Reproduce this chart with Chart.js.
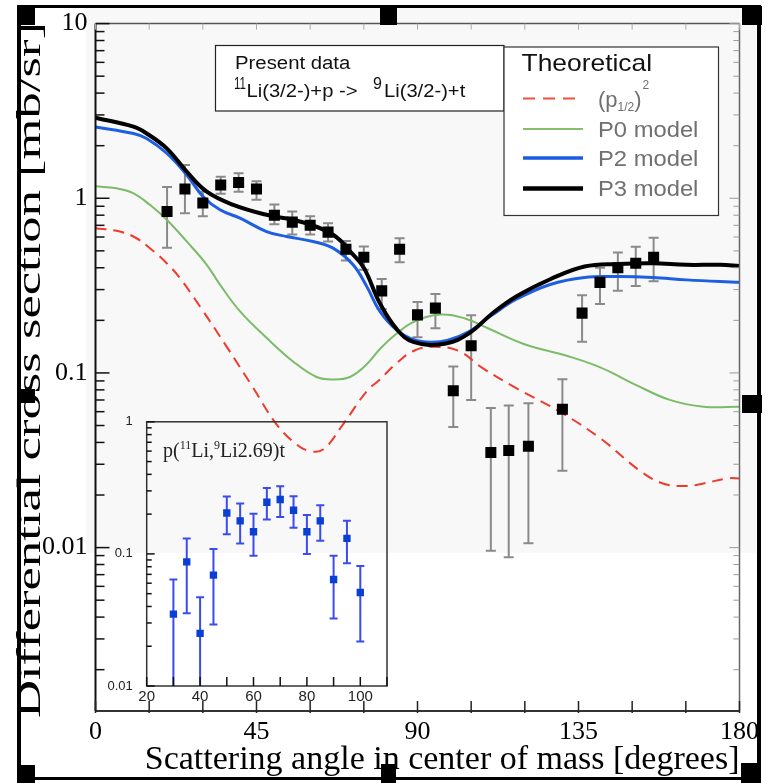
<!DOCTYPE html>
<html>
<head>
<meta charset="utf-8">
<title>11Li(p,t) differential cross section</title>
<script src="https://cdn.jsdelivr.net/npm/chart.js@4.4.1/dist/chart.umd.min.js"></script>
<style>
  body { margin: 0; background: #fff; }
  #wrap { position: relative; width: 772px; height: 783px; }
  #mainChart { position: absolute; left: 0; top: 0; }
  #insetChart { position: absolute; left: 100px; top: 400px; }
</style>
</head>
<body>
<div id="wrap">
  <canvas id="mainChart" width="772" height="783"></canvas>
  <canvas id="insetChart" width="300" height="310"></canvas>
</div>
<script>
// --- main panel: measured points (ground state) ---
const dataAngle = [20, 25, 30, 35, 40, 45, 50, 55, 60, 65, 70, 75, 80, 85, 90, 95, 100, 105, 110.5, 115.5, 121, 130.5, 136, 141, 146, 151, 156];
const dataValue = [0.84, 1.13, 0.94, 1.19, 1.23, 1.13, 0.80, 0.73, 0.70, 0.64, 0.51, 0.46, 0.295, 0.51, 0.215, 0.235, 0.079, 0.143, 0.035, 0.036, 0.038, 0.062, 0.22, 0.33, 0.40, 0.425, 0.46];
const dataHigh = [1.16, 1.55, 1.09, 1.33, 1.39, 1.25, 0.92, 0.84, 0.79, 0.72, 0.57, 0.53, 0.345, 0.59, 0.255, 0.283, 0.109, 0.214, 0.063, 0.065, 0.067, 0.092, 0.278, 0.40, 0.49, 0.527, 0.595];
const dataLow = [0.52, 0.82, 0.79, 1.06, 1.09, 0.98, 0.71, 0.62, 0.62, 0.565, 0.44, 0.39, 0.232, 0.43, 0.16, 0.18, 0.049, 0.07, 0.0096, 0.0088, 0.0106, 0.0275, 0.151, 0.248, 0.295, 0.315, 0.335];

// theoretical curves
const p3Angle = [0, 10.6, 14.3, 19.9, 25.5, 31.1, 38.5, 47.8, 57.1, 66.4, 72, 75.1, 79.5, 84.2, 89, 97.6, 104.3, 110.9, 117.6, 127.1, 136.7, 146.2, 155.7, 165.2, 174.7, 180];
const p3Value = [2.89, 2.57, 2.35, 1.93, 1.42, 1.09, 0.917, 0.804, 0.736, 0.618, 0.475, 0.397, 0.25, 0.178, 0.15, 0.147, 0.168, 0.219, 0.274, 0.344, 0.407, 0.421, 0.425, 0.416, 0.416, 0.409];

const p2Angle = [0, 10.6, 14.3, 19.9, 25.5, 30.1, 34.8, 40.4, 47.8, 53.4, 60.8, 66.4, 72, 75.8, 79.5, 84.2, 89, 93.7, 98.5, 104.3, 110.9, 117.6, 127.1, 136.7, 146.2, 155.7, 165.2, 180];
const p2Value = [2.56, 2.35, 2.2, 1.81, 1.36, 1.02, 0.859, 0.769, 0.645, 0.604, 0.566, 0.518, 0.416, 0.313, 0.225, 0.176, 0.155, 0.15, 0.154, 0.172, 0.215, 0.264, 0.321, 0.352, 0.356, 0.352, 0.341, 0.33];

const p0Angle = [0, 5.9, 10.5, 15.2, 19.9, 25.5, 31.1, 34.8, 40.4, 47.8, 55.3, 61.8, 66.4, 71.1, 75.8, 79.5, 84.2, 89, 96.6, 103.3, 110, 119.5, 131.9, 141.4, 151, 160.5, 170, 180];
const p0Value = [1.17, 1.14, 1.07, 0.917, 0.753, 0.566, 0.416, 0.32, 0.225, 0.159, 0.116, 0.0948, 0.0918, 0.0948, 0.112, 0.137, 0.168, 0.196, 0.216, 0.205, 0.179, 0.147, 0.125, 0.107, 0.0855, 0.0701, 0.0641, 0.0641];

const p12Angle = [0, 5.9, 10.6, 15.2, 19.9, 23.6, 29.2, 36.6, 44.1, 50.6, 56.2, 59.9, 63.6, 69.2, 75.8, 79.5, 84.2, 89, 94.7, 101.4, 108.1, 117.6, 130, 141.4, 151.9, 158.6, 165.3, 170, 176.7, 180];
const p12Value = [0.674, 0.651, 0.604, 0.518, 0.425, 0.349, 0.24, 0.142, 0.082, 0.0508, 0.039, 0.0357, 0.0364, 0.0508, 0.0786, 0.0916, 0.114, 0.134, 0.141, 0.134, 0.107, 0.0818, 0.0596, 0.0418, 0.0278, 0.0233, 0.0225, 0.0233, 0.0249, 0.0249];

const xTickLabels = [0, 45, 90, 135, 180];
const yTickLabels = [10, 1, 0.1, 0.01];

// --- inset: p(11Li,9Li 2.69)t ---
const insetAngle = [30, 35, 40, 45, 50, 55, 60, 65, 70, 75, 80, 85, 90, 95, 100];
const insetValue = [0.035, 0.087, 0.025, 0.069, 0.204, 0.178, 0.147, 0.246, 0.258, 0.214, 0.147, 0.178, 0.064, 0.131, 0.051];
const insetHigh = [0.064, 0.131, 0.047, 0.109, 0.272, 0.241, 0.201, 0.315, 0.325, 0.273, 0.197, 0.234, 0.097, 0.178, 0.081];
const insetLow = [0.004, 0.0355, 0.004, 0.0292, 0.141, 0.12, 0.097, 0.182, 0.19, 0.158, 0.1, 0.126, 0.0325, 0.085, 0.0217];

const insetXTickLabels = [20, 40, 60, 80, 100];
const insetYTickLabels = [1, 0.1, 0.01];

const SERIF = '"Liberation Serif", "DejaVu Serif", serif';
const SANS = '"Liberation Sans", Arial, sans-serif';

const toPoints = (xs, ys) => xs.map((x, i) => ({ x, y: ys[i] }));
const isLabel = (list, v) => list.some((t) => Math.abs(v - t) <= t * 1e-6);

function line(ctx, x1, y1, x2, y2) {
  ctx.beginPath();
  ctx.moveTo(x1, y1);
  ctx.lineTo(x2, y2);
  ctx.stroke();
}

// text squeezed/stretched horizontally, returns advance
function stretchText(ctx, text, x, y, sx) {
  ctx.save();
  ctx.translate(x, y);
  ctx.scale(sx, 1);
  ctx.fillText(text, 0, 0);
  ctx.restore();
  return ctx.measureText(text).width * sx;
}

function makeErrorBars(angle, high, low, color, width, cap) {
  return {
    id: 'errorBars',
    beforeDatasetsDraw(chart) {
      const { ctx, chartArea: a, scales: { x, y } } = chart;
      ctx.save();
      ctx.beginPath();
      ctx.rect(a.left, a.top, a.right - a.left, a.bottom - a.top);
      ctx.clip();
      ctx.strokeStyle = color;
      ctx.lineWidth = width;
      angle.forEach((ang, i) => {
        const px = x.getPixelForValue(ang);
        const top = y.getPixelForValue(high[i]);
        const bot = y.getPixelForValue(low[i]);
        line(ctx, px, top, px, bot);
        line(ctx, px - cap, top, px + cap, top);
        line(ctx, px - cap, bot, px + cap, bot);
      });
      ctx.restore();
    },
  };
}

// minor/major marks on a log axis
function logTicks(ctx, scale, x, dir, major, minor) {
  const lo = Math.floor(Math.log10(scale.min));
  const hi = Math.ceil(Math.log10(scale.max));
  for (let e = lo; e <= hi; e++) {
    for (let m = 1; m < 10; m++) {
      const v = m * Math.pow(10, e);
      if (v < scale.min * 0.999 || v > scale.max * 1.001) continue;
      const py = scale.getPixelForValue(v);
      line(ctx, x, py, x + dir * (m === 1 ? major : minor), py);
    }
  }
}

const mainDecor = {
  id: 'mainDecor',
  beforeDraw(chart) {
    const ctx = chart.ctx;
    ctx.save();
    ctx.fillStyle = '#f8f8f8';
    ctx.fillRect(86, 8, 670, 545);
    ctx.restore();
  },
  afterDatasetsDraw(chart) {
    const { ctx, chartArea: a, scales: { x, y } } = chart;
    ctx.save();
    // frame
    ctx.lineWidth = 1.5;
    ctx.strokeStyle = '#555';
    line(ctx, a.left, a.top, a.right, a.top);
    ctx.strokeStyle = '#666';
    line(ctx, a.right, a.top, a.right, a.bottom);
    ctx.lineWidth = 2;
    ctx.strokeStyle = '#333';
    line(ctx, a.left, a.bottom, a.right, a.bottom);
    ctx.strokeStyle = '#111';
    line(ctx, a.left, a.top, a.left, a.bottom);

    // ticks
    ctx.lineWidth = 1.5;
    ctx.strokeStyle = '#111';
    logTicks(ctx, y, a.left, 1, 14, 9);
    ctx.lineWidth = 1;
    ctx.strokeStyle = '#999';
    logTicks(ctx, y, a.right, -1, 10, 6);
    x.ticks.forEach((t) => {
      const px = x.getPixelForValue(t.value);
      ctx.strokeStyle = '#222';
      ctx.lineWidth = 1.5;
      line(ctx, px, a.bottom + 2, px, a.bottom - 10);
      ctx.strokeStyle = '#aaa';
      ctx.lineWidth = 1;
      line(ctx, px, a.top, px, a.top + 6);
    });

    // legend box 1
    ctx.fillStyle = '#fff';
    ctx.fillRect(215.5, 45.5, 288.5, 65.5);
    ctx.strokeStyle = '#222';
    ctx.lineWidth = 1.2;
    ctx.strokeRect(215.5, 45.5, 288.5, 65.5);
    ctx.fillStyle = '#111';
    ctx.textAlign = 'left';
    ctx.textBaseline = 'alphabetic';
    ctx.font = `18px ${SANS}`;
    stretchText(ctx, 'Present data', 235, 69, 1.13);
    ctx.font = `16px ${SANS}`;
    stretchText(ctx, '11', 234, 89, 0.72);
    stretchText(ctx, '9', 373, 89, 1.0);
    ctx.font = `18px ${SANS}`;
    stretchText(ctx, 'Li(3/2-)+p ->', 246.5, 97, 1.12);
    stretchText(ctx, 'Li(3/2-)+t', 384, 97, 1.12);

    // legend box 2
    ctx.fillStyle = '#fff';
    ctx.fillRect(504, 47, 214.5, 168.5);
    ctx.strokeStyle = '#333';
    ctx.strokeRect(504, 47, 214.5, 168.5);
    ctx.fillStyle = '#111';
    ctx.font = `24px ${SANS}`;
    stretchText(ctx, 'Theoretical', 521.5, 71, 1.1);

    const entries = [
      { y: 98.5, color: '#f0503c', width: 2, dash: [12, 8] },
      { y: 129, color: '#86c06c', width: 2, dash: [], text: 'P0 model' },
      { y: 158, color: '#1a5ce0', width: 3.5, dash: [], text: 'P2 model' },
      { y: 188.5, color: '#000', width: 4.5, dash: [], text: 'P3 model' },
    ];
    entries.forEach((e) => {
      ctx.strokeStyle = e.color;
      ctx.lineWidth = e.width;
      ctx.setLineDash(e.dash);
      line(ctx, 523, e.y, 583, e.y);
      ctx.setLineDash([]);
      ctx.fillStyle = '#707070';
      if (e.text) {
        ctx.font = `22px ${SANS}`;
        stretchText(ctx, e.text, 598, e.y + 7.5, 1.08);
      } else {
        let tx = 598;
        ctx.font = `22px ${SANS}`;
        tx += stretchText(ctx, '(p', tx, e.y + 8, 1.0);
        ctx.font = `12px ${SANS}`;
        tx += stretchText(ctx, '1/2', tx, e.y + 12, 1.0);
        ctx.font = `22px ${SANS}`;
        tx += stretchText(ctx, ')', tx, e.y + 8, 1.0);
        ctx.font = `12px ${SANS}`;
        stretchText(ctx, '2', tx + 1, e.y - 10, 1.0);
      }
    });
    ctx.restore();
  },
  afterDraw(chart) {
    const ctx = chart.ctx;
    ctx.save();
    // y axis title, stretched along its length
    ctx.fillStyle = '#000';
    ctx.font = `34px ${SERIF}`;
    ctx.textAlign = 'center';
    ctx.textBaseline = 'alphabetic';
    const title = 'Differential cross section [mb/sr]';
    const sx = 696 / ctx.measureText(title).width;
    ctx.translate(40, 370);
    ctx.rotate(-Math.PI / 2);
    ctx.scale(sx, 1);
    ctx.fillText(title, 0, 0);
    ctx.restore();

    // outer frame and selection handles of the pasted figure
    ctx.save();
    ctx.fillStyle = '#000';
    ctx.fillRect(18, 5, 743, 3);
    ctx.fillRect(17, 5, 4, 778);
    ctx.fillRect(757, 5, 4, 778);
    ctx.fillRect(17, 777, 744, 3);
    [[18, 8, 17, 17], [380, 8, 17, 17], [742, 6, 20, 19], [18, 389, 17, 14], [742, 395, 20, 18],
     [18, 765, 17, 18], [381, 764, 15, 19], [741, 763, 19, 20]].forEach((r) => ctx.fillRect(...r));
    ctx.restore();
  },
};

const curveStyle = { showLine: true, pointRadius: 0, tension: 0.4 };

const mainChart = new Chart(document.getElementById('mainChart'), {
  type: 'scatter',
  data: {
    datasets: [
      { label: 'Present data', data: toPoints(dataAngle, dataValue), pointStyle: 'rect', pointRadius: 7.8, backgroundColor: '#000', borderWidth: 0 },
      { ...curveStyle, label: 'P3 model', data: toPoints(p3Angle, p3Value), borderColor: '#000', borderWidth: 4 },
      { ...curveStyle, label: 'P2 model', data: toPoints(p2Angle, p2Value), borderColor: '#1d5fe0', borderWidth: 3 },
      { ...curveStyle, label: 'P0 model', data: toPoints(p0Angle, p0Value), borderColor: '#7cbb68', borderWidth: 2 },
      { ...curveStyle, label: '(p1/2)^2', data: toPoints(p12Angle, p12Value), borderColor: '#ef3b2c', borderWidth: 2, borderDash: [11, 7] },
    ],
  },
  options: {
    responsive: false,
    animation: false,
    events: [],
    layout: { padding: { top: 22, right: 32.5, left: 0, bottom: 0 } },
    plugins: { legend: { display: false }, tooltip: { enabled: false } },
    scales: {
      x: {
        type: 'linear',
        min: 0,
        max: 180,
        grid: { display: false, drawTicks: false },
        border: { display: false },
        ticks: {
          stepSize: 15,
          autoSkip: false,
          maxRotation: 0,
          padding: 6,
          color: '#000',
          font: { family: SERIF, size: 26 },
          callback: (v) => (isLabel(xTickLabels, v) ? String(v) : ''),
        },
        title: {
          display: true,
          text: 'Scattering angle in center of mass [degrees]',
          align: 'end',
          color: '#000',
          font: { family: SERIF, size: 34 },
          padding: { top: 0, bottom: 3 },
        },
        afterFit: (scale) => { scale.height = 72; },
      },
      y: {
        type: 'logarithmic',
        min: 0.00116,
        max: 10,
        grid: { display: false, drawTicks: false },
        border: { display: false },
        ticks: {
          autoSkip: false,
          padding: 8,
          color: '#000',
          font: { family: SERIF, size: 26 },
          callback: (v) => (isLabel(yTickLabels, v) ? String(v) : ''),
        },
        afterFit: (scale) => { scale.width = 95.5; },
      },
    },
  },
  plugins: [makeErrorBars(dataAngle, dataHigh, dataLow, '#8a8a8a', 2, 5), mainDecor],
});

const insetDecor = {
  id: 'insetDecor',
  afterDatasetsDraw(chart) {
    const { ctx, chartArea: a, scales: { x, y } } = chart;
    ctx.save();
    ctx.strokeStyle = '#333';
    ctx.lineWidth = 1.5;
    ctx.strokeRect(a.left, a.top, a.right - a.left, a.bottom - a.top);
    ctx.strokeStyle = '#111';
    ctx.lineWidth = 1.5;
    logTicks(ctx, y, a.left, 1, 8, 5);
    x.ticks.forEach((t) => {
      const px = x.getPixelForValue(t.value);
      line(ctx, px, a.bottom, px, a.bottom - 9);
    });

    // panel label p(11Li,9Li2.69)t
    ctx.fillStyle = '#222';
    ctx.textAlign = 'left';
    ctx.textBaseline = 'alphabetic';
    let tx = 63;
    const base = 57;
    ctx.font = `20px ${SERIF}`;
    ctx.fillText('p(', tx, base);
    tx += ctx.measureText('p(').width;
    ctx.font = `12px ${SERIF}`;
    ctx.fillText('11', tx, base - 8);
    tx += ctx.measureText('11').width;
    ctx.font = `20px ${SERIF}`;
    ctx.fillText('Li,', tx, base);
    tx += ctx.measureText('Li,').width;
    ctx.font = `12px ${SERIF}`;
    ctx.fillText('9', tx, base - 8);
    tx += ctx.measureText('9').width;
    ctx.font = `20px ${SERIF}`;
    ctx.fillText('Li2.69)t', tx, base);
    ctx.restore();
  },
};

const insetChart = new Chart(document.getElementById('insetChart'), {
  type: 'scatter',
  data: {
    datasets: [
      { label: 'p(11Li,9Li2.69)t', data: toPoints(insetAngle, insetValue), pointStyle: 'rect', pointRadius: 5.2, backgroundColor: '#0b3fd4', borderWidth: 0 },
    ],
  },
  options: {
    responsive: false,
    animation: false,
    events: [],
    layout: { padding: { top: 21.7, right: 13, left: 0, bottom: 0 } },
    plugins: { legend: { display: false }, tooltip: { enabled: false } },
    scales: {
      x: {
        type: 'linear',
        min: 20,
        max: 110,
        grid: { display: false, drawTicks: false },
        border: { display: false },
        ticks: {
          stepSize: 10,
          autoSkip: false,
          maxRotation: 0,
          padding: 2,
          color: '#222',
          font: { family: SANS, size: 15 },
          callback: (v) => (isLabel(insetXTickLabels, v) ? String(v) : ''),
        },
        afterFit: (scale) => { scale.height = 24; },
      },
      y: {
        type: 'logarithmic',
        min: 0.01,
        max: 1,
        grid: { display: false, drawTicks: false },
        border: { display: false },
        ticks: {
          autoSkip: false,
          padding: 14,
          color: '#222',
          font: { family: SANS, size: 13 },
          callback: (v) => (isLabel(insetYTickLabels, v) ? String(v) : ''),
        },
        afterFit: (scale) => { scale.width = 46.7; },
      },
    },
  },
  plugins: [makeErrorBars(insetAngle, insetHigh, insetLow, '#3a4cf0', 2, 4), insetDecor],
});
</script>
</body>
</html>
